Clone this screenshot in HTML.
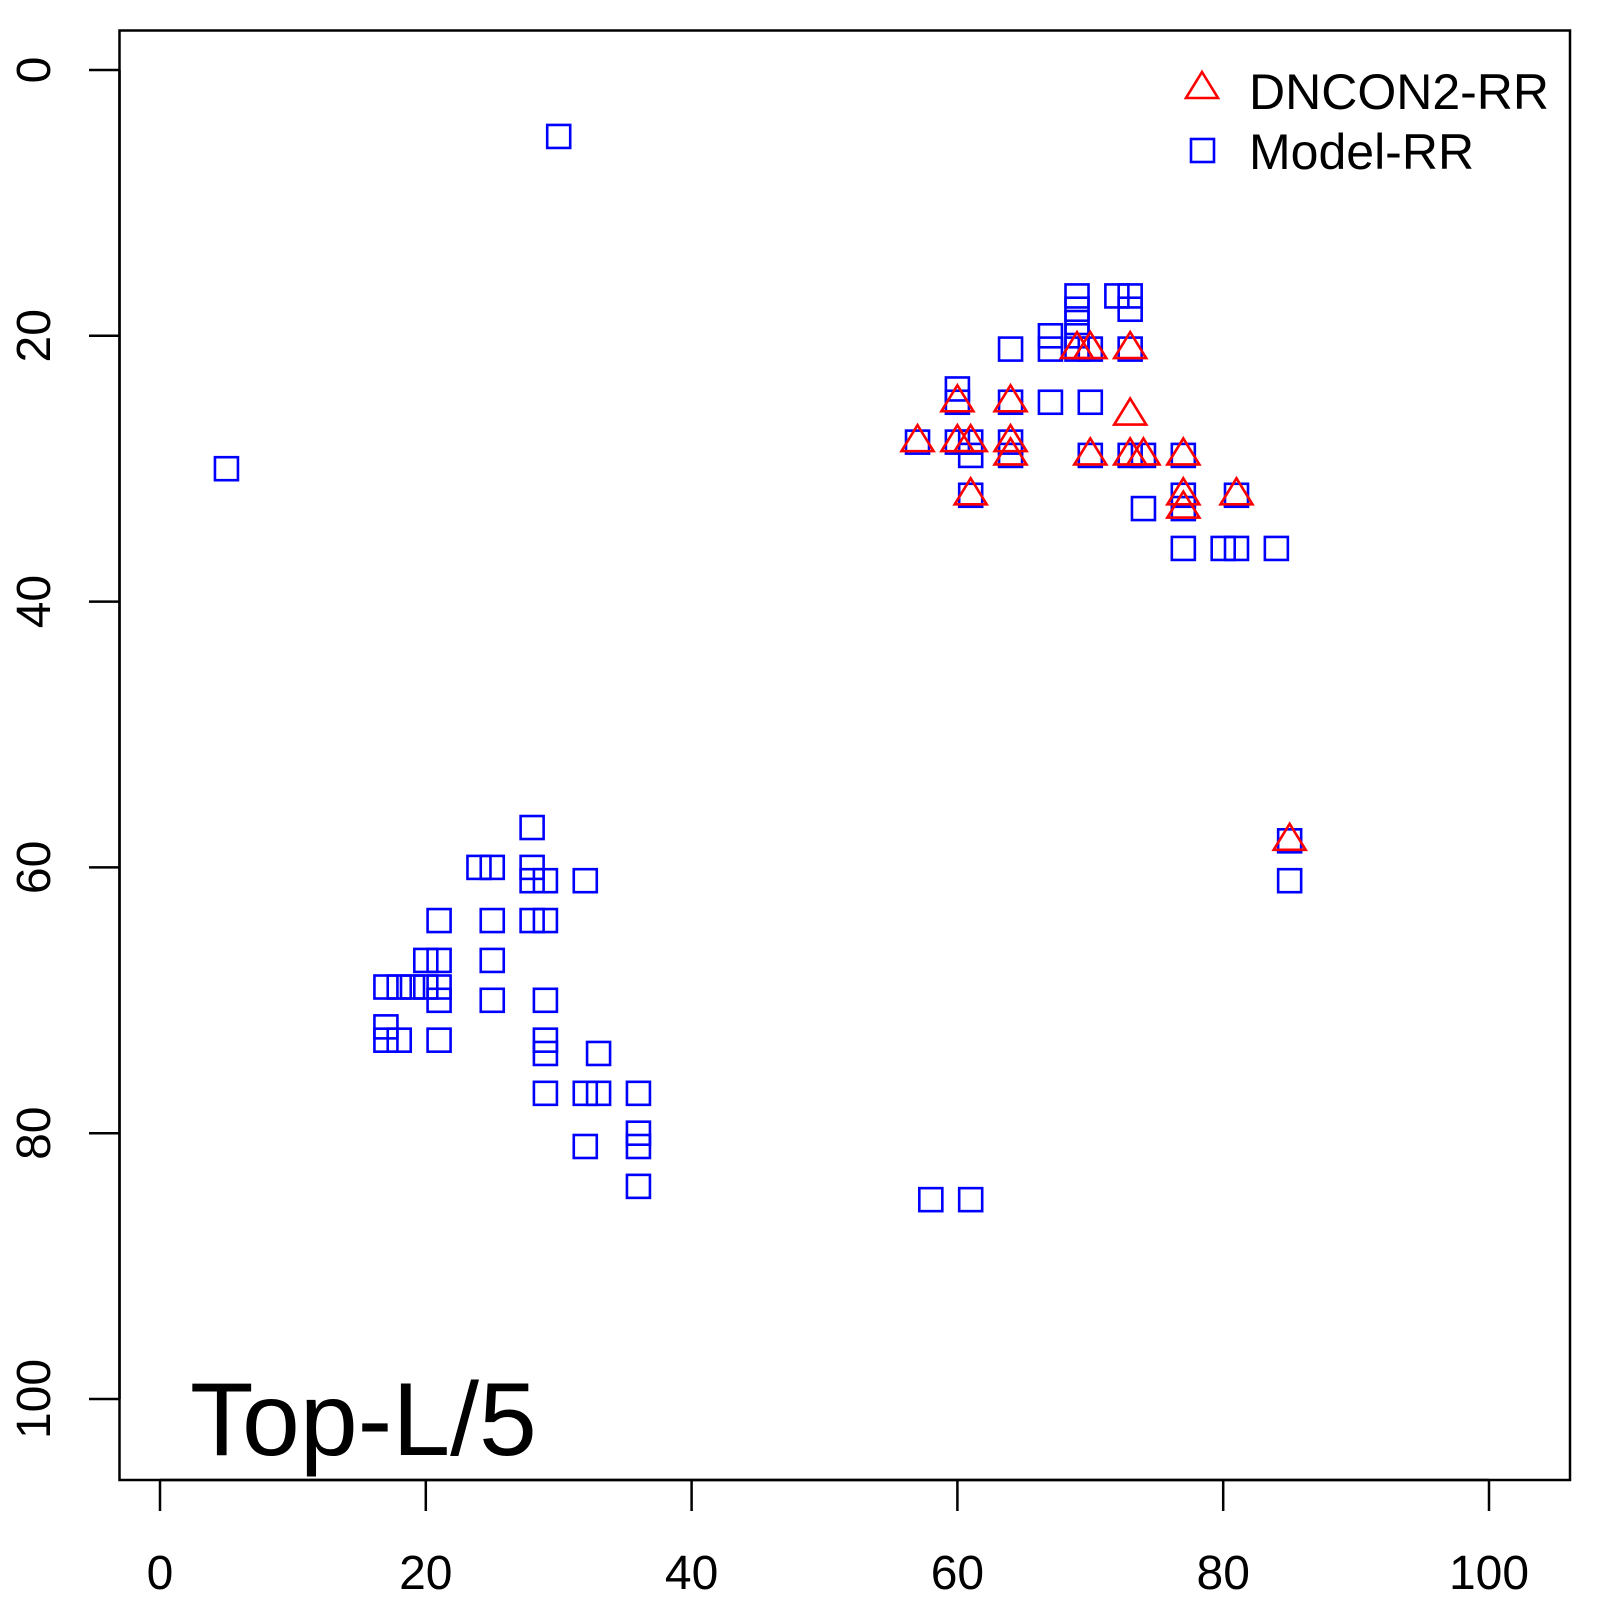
<!DOCTYPE html>
<html><head><meta charset="utf-8"><style>
html,body{margin:0;padding:0;background:#fff}
svg{display:block}
text{font-family:"Liberation Sans",Arial,sans-serif;fill:#000}
</style></head><body>
<svg id="s" width="1600" height="1600" viewBox="0 0 1600 1600" xmlns="http://www.w3.org/2000/svg">
<rect x="119.5" y="30.5" width="1450.5" height="1449.5" fill="none" stroke="#000" stroke-width="2.5"/>
<g stroke="#000" stroke-width="2.5">
<line x1="160" y1="1480" x2="1489" y2="1480"/>
<line x1="160" y1="1480" x2="160" y2="1511"/>
<line x1="425.8" y1="1480" x2="425.8" y2="1511"/>
<line x1="691.6" y1="1480" x2="691.6" y2="1511"/>
<line x1="957.4" y1="1480" x2="957.4" y2="1511"/>
<line x1="1223.2" y1="1480" x2="1223.2" y2="1511"/>
<line x1="1489" y1="1480" x2="1489" y2="1511"/>
<line x1="119.5" y1="70" x2="119.5" y2="1399"/>
<line x1="119.5" y1="70" x2="89" y2="70"/>
<line x1="119.5" y1="335.8" x2="89" y2="335.8"/>
<line x1="119.5" y1="601.6" x2="89" y2="601.6"/>
<line x1="119.5" y1="867.4" x2="89" y2="867.4"/>
<line x1="119.5" y1="1133.2" x2="89" y2="1133.2"/>
<line x1="119.5" y1="1399" x2="89" y2="1399"/>
</g>
<g font-size="48" text-anchor="middle">
<text x="160" y="1589">0</text>
<text x="425.8" y="1589">20</text>
<text x="691.6" y="1589">40</text>
<text x="957.4" y="1589">60</text>
<text x="1223.2" y="1589">80</text>
<text x="1489" y="1589">100</text>
<text transform="translate(50,70) rotate(-90)">0</text>
<text transform="translate(50,335.8) rotate(-90)">20</text>
<text transform="translate(50,601.6) rotate(-90)">40</text>
<text transform="translate(50,867.4) rotate(-90)">60</text>
<text transform="translate(50,1133.2) rotate(-90)">80</text>
<text transform="translate(50,1399) rotate(-90)">100</text>
</g>
<text x="190" y="1455" font-size="104">Top-L/5</text>
<g font-size="50">
<text x="1249" y="109">DNCON2-RR</text>
<text x="1249" y="169">Model-RR</text>
</g>
<polygon points="1202,72 1218,98 1186,98" fill="none" stroke="#f00" stroke-width="2.6"/>
<rect x="1191" y="139" width="23" height="23" fill="none" stroke="#00f" stroke-width="2.6"/>
<g id="sq" fill="none" stroke="#00f" stroke-width="2.6"></g>
<g id="tr" fill="none" stroke="#f00" stroke-width="2.6"></g>
</svg>
<script>
var X=function(v){return 160+v*13.29},Y=function(v){return 70+v*13.29};
var sq=[[30,5],[5,30],[69,17],[72,17],[73,17],[69,18],[73,18],[69,19],[69,20],[67,20],[67,21],[64,21],[70,21],[73,21],[69,21],[60,24],[60,25],[64,25],[67,25],[70,25],[57,28],[60,28],[61,28],[64,28],[61,29],[64,29],[70,29],[73,29],[74,29],[77,29],[61,32],[77,32],[81,32],[74,33],[77,33],[77,36],[80,36],[81,36],[84,36],[85,58],[85,61],
[28,57],[24,60],[25,60],[28,60],[28,61],[29,61],[32,61],[21,64],[25,64],[28,64],[29,64],[20,67],[21,67],[25,67],[17,69],[18,69],[19,69],[20,69],[21,69],[21,70],[25,70],[29,70],[17,72],[17,73],[18,73],[21,73],[29,73],[29,74],[33,74],[29,77],[32,77],[33,77],[36,77],[36,80],[36,81],[32,81],[36,84],[58,85],[61,85]];
var tr=[[57,28],[60,25],[60,28],[61,28],[61,32],[64,25],[64,28],[64,29],[69,21],[70,21],[73,21],[73,26],[70,29],[73,29],[74,29],[77,29],[77,32],[77,33],[81,32],[85,58]];
var ns="http://www.w3.org/2000/svg",g1=document.getElementById('sq'),g2=document.getElementById('tr');
sq.forEach(function(p){var r=document.createElementNS(ns,'rect');r.setAttribute('x',X(p[0])-11.5);r.setAttribute('y',Y(p[1])-11.5);r.setAttribute('width',23);r.setAttribute('height',23);g1.appendChild(r);});
tr.forEach(function(p){var x=X(p[0]),y=Y(p[1]);var r=document.createElementNS(ns,'polygon');r.setAttribute('points',x+','+(y-17)+' '+(x+16)+','+(y+9)+' '+(x-16)+','+(y+9));g2.appendChild(r);});
</script>
</body></html>
